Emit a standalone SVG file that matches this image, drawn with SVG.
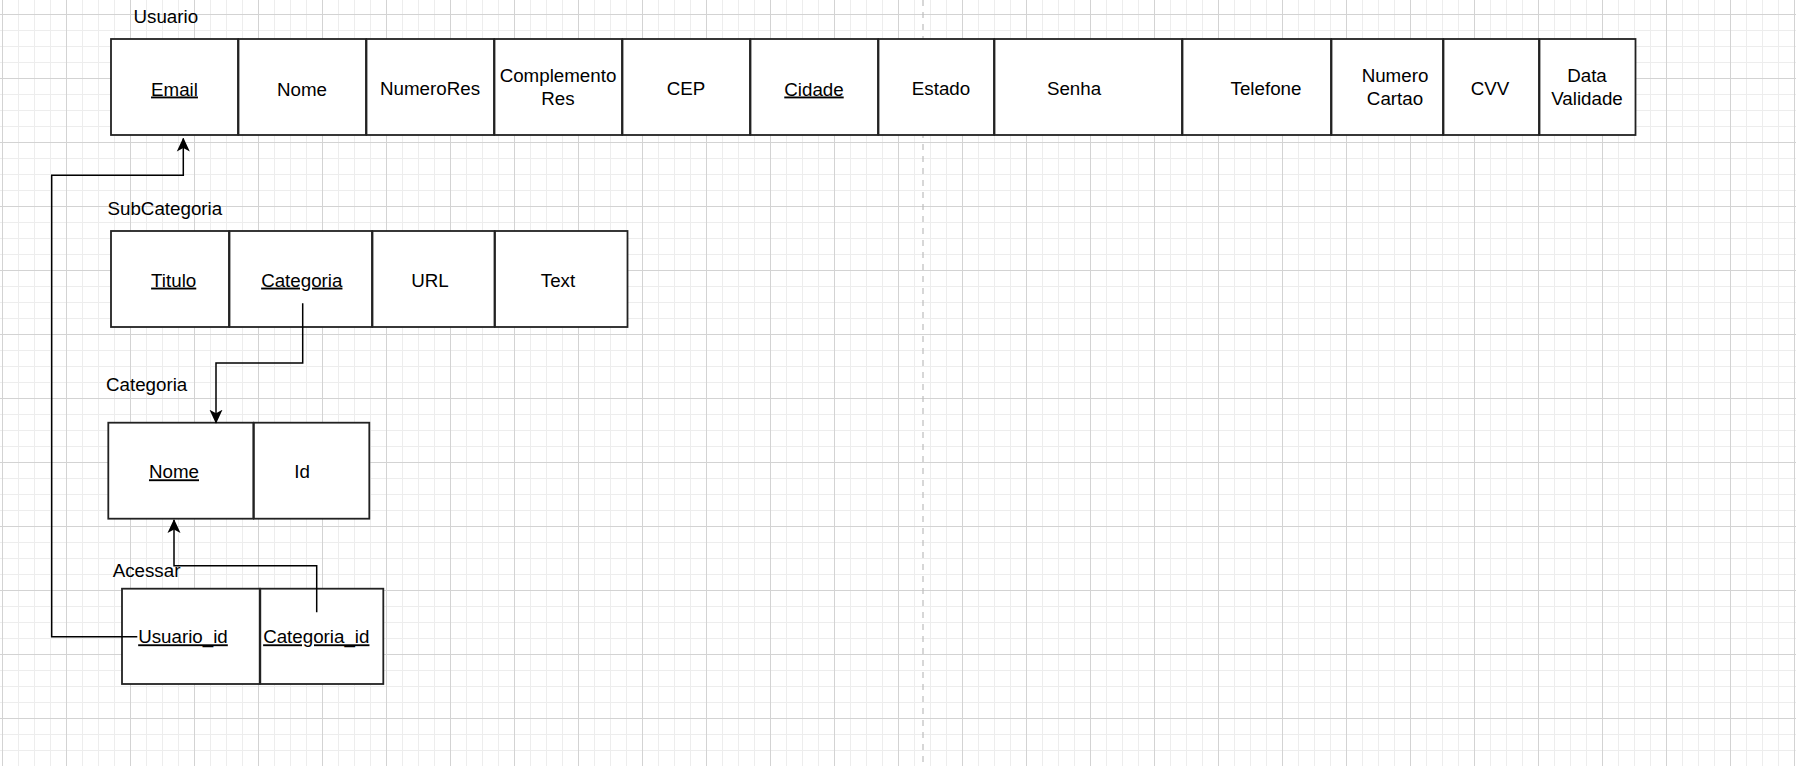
<svg xmlns="http://www.w3.org/2000/svg" width="1796" height="766" viewBox="0 0 1796 766">
<style>
.cell{fill:#ffffff;stroke:#222222;stroke-width:1.8}
.t{font-family:"Liberation Sans",Arial,Helvetica,sans-serif;font-size:18.75px;fill:#000000;text-anchor:middle}
.lbl{font-family:"Liberation Sans",Arial,Helvetica,sans-serif;font-size:18.75px;fill:#000000}
.u{text-decoration:underline}
.conn{fill:none;stroke:#000000;stroke-width:1.5}
</style>
<defs>
<pattern id="grid" patternUnits="userSpaceOnUse" x="2" y="14" width="64" height="64">
<path d="M16.5,0V64M32.5,0V64M48.5,0V64M0,16.5H64M0,32.5H64M0,48.5H64" stroke="#ededed" stroke-width="1" fill="none"/>
<path d="M0.5,0V64M0,0.5H64" stroke="#d3d3d3" stroke-width="1" fill="none"/>
</pattern>
<marker id="arr" markerUnits="userSpaceOnUse" viewBox="0 0 14 14" markerWidth="14" markerHeight="14" refX="13" refY="7" orient="auto">
<path d="M0,0.5 L14,7 L0,13.5 L3.5,7 Z" fill="#000000"/>
</marker>
</defs>
<rect x="0" y="0" width="1796" height="766" fill="#ffffff"/>
<rect x="0" y="0" width="1796" height="766" fill="url(#grid)"/>
<line x1="923" y1="0" x2="923" y2="766" stroke="#bdbdbd" stroke-width="1.2" stroke-dasharray="6 6"/>

<g id="label-usuario"><text class="lbl" x="133.5" y="22.5">Usuario</text></g>
<g id="usuario">
<rect class="cell" x="111" y="39" width="127" height="96"/>
<rect class="cell" x="238.5" y="39" width="127.5" height="96"/>
<rect class="cell" x="366.5" y="39" width="127.5" height="96"/>
<rect class="cell" x="494.5" y="39" width="127.5" height="96"/>
<rect class="cell" x="622.5" y="39" width="127.5" height="96"/>
<rect class="cell" x="750.5" y="39" width="127.5" height="96"/>
<rect class="cell" x="878.5" y="39" width="115.5" height="96"/>
<rect class="cell" x="994.5" y="39" width="187.5" height="96"/>
<rect class="cell" x="1182.5" y="39" width="148.5" height="96"/>
<rect class="cell" x="1331.5" y="39" width="111.5" height="96"/>
<rect class="cell" x="1443.5" y="39" width="95.5" height="96"/>
<rect class="cell" x="1539.5" y="39" width="96" height="96"/>
<text class="t u" x="174.5" y="95.5">Email</text>
<text class="t" x="302" y="95.5">Nome</text>
<text class="t" x="430" y="95">NumeroRes</text>
<text class="t" x="558" y="82">Complemento</text>
<text class="t" x="558" y="104.5">Res</text>
<text class="t" x="686" y="95">CEP</text>
<text class="t u" x="814" y="95.5">Cidade</text>
<text class="t" x="941" y="95">Estado</text>
<text class="t" x="1074" y="95">Senha</text>
<text class="t" x="1266" y="95">Telefone</text>
<text class="t" x="1395" y="82">Numero</text>
<text class="t" x="1395" y="105">Cartao</text>
<text class="t" x="1490" y="95">CVV</text>
<text class="t" x="1587" y="82">Data</text>
<text class="t" x="1587" y="105">Validade</text>
</g>

<g id="label-subcategoria"><text class="lbl" x="107.5" y="214.8">SubCategoria</text></g>
<g id="subcategoria">
<rect class="cell" x="111" y="231" width="118" height="96"/>
<rect class="cell" x="229.5" y="231" width="142.5" height="96"/>
<rect class="cell" x="372.5" y="231" width="122" height="96"/>
<rect class="cell" x="495" y="231" width="132.5" height="96"/>
<text class="t u" x="173.7" y="286.6">Titulo</text>
<text class="t u" x="301.8" y="286.6">Categoria</text>
<text class="t" x="430" y="286.6">URL</text>
<text class="t" x="558" y="286.6">Text</text>
</g>

<g id="label-categoria"><text class="lbl" x="106" y="390.6">Categoria</text></g>
<g id="categoria">
<rect class="cell" x="108.3" y="422.7" width="145" height="96"/>
<rect class="cell" x="253.9" y="422.7" width="115.4" height="96"/>
<text class="t u" x="174" y="478.3">Nome</text>
<text class="t" x="302" y="478.3">Id</text>
</g>

<g id="label-acessar"><text class="lbl" x="112.7" y="577.3">Acessar</text></g>
<g id="acessar">
<rect class="cell" x="122" y="588.7" width="137.7" height="95.3"/>
<rect class="cell" x="260.3" y="588.7" width="123" height="95.3"/>
<text class="t u" x="183" y="643.3">Usuario_id</text>
<text class="t u" x="316.3" y="643.3">Categoria_id</text>
</g>

<g id="connectors">
<path class="conn" d="M137.3,636.7 H51.7 V175.3 H183.3 V138.5" marker-end="url(#arr)"/>
<path class="conn" d="M302.7,303.3 V363 H216 V422.7" marker-end="url(#arr)"/>
<path class="conn" d="M316.7,612.3 V565.7 H174 V520" marker-end="url(#arr)"/>
</g>
</svg>
